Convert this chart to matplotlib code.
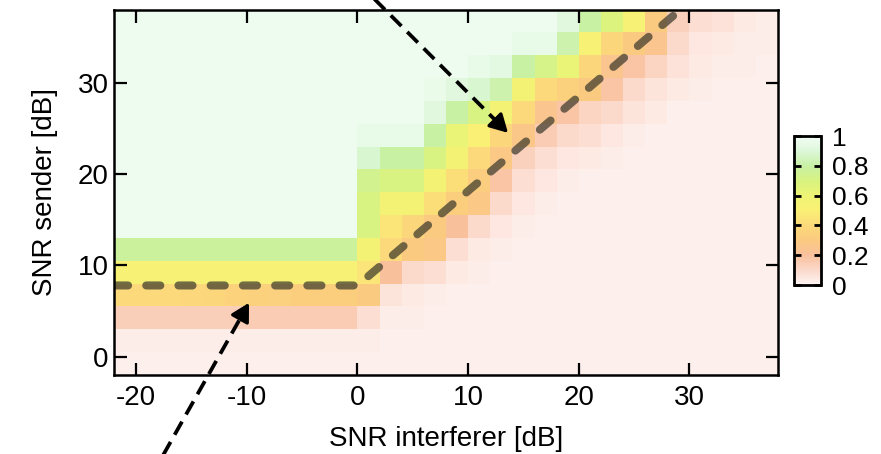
import matplotlib
matplotlib.use("Agg")
import matplotlib.pyplot as plt
from matplotlib.colors import LinearSegmentedColormap
import numpy as np

plt.rcParams["font.family"] = ["Liberation Sans", "DejaVu Sans"]
plt.rcParams["axes.unicode_minus"] = False

# cell edges of the success-rate grid
X_EDGES = [-22, -20, -18, -16, -14, -12, -10, -8, -6, -4, -2, 0, 2, 4, 6, 8, 10,
           12, 14, 16, 18, 20, 22, 24, 26, 28, 30, 32, 34, 36, 38]
Y_EDGES = [-2, 0.5, 3, 5.5, 8, 10.5, 13, 15.5, 18, 20.5, 23, 25.5, 28, 30.5,
           33, 35.5, 38]

# reception rate per cell, rows from low to high sender SNR,
# columns from -22 dB to 38 dB interferer SNR
RATE = [
    [.02, .02, .02, .02, .02, .02, .02, .02, .02, .02, .02,
     .02, .02, .02, .02, .02, .02, .02, .02, .02, .02, .02, .02, .02, .02, .02, .02, .02, .02, .02],
    [.03, .03, .03, .03, .03, .03, .03, .03, .03, .03, .03,
     .03, .02, .02, .02, .02, .02, .02, .02, .02, .02, .02, .02, .02, .02, .02, .02, .02, .02, .02],
    [.14, .14, .14, .14, .14, .14, .15, .15, .15, .15, .15,
     .08, .03, .03, .02, .02, .02, .02, .02, .02, .02, .02, .02, .02, .02, .02, .02, .02, .02, .02],
    [.40, .40, .40, .39, .38, .36, .35, .34, .33, .33, .33,
     .30, .06, .04, .03, .02, .02, .02, .02, .02, .02, .02, .02, .02, .02, .02, .02, .02, .02, .02],
    [.52, .52, .52, .52, .52, .52, .52, .52, .52, .52, .52,
     .45, .20, .10, .08, .04, .03, .02, .02, .02, .02, .02, .02, .02, .02, .02, .02, .02, .02, .02],
    [.78, .78, .78, .78, .78, .78, .78, .78, .78, .78, .78,
     .55, .40, .30, .28, .08, .04, .03, .02, .02, .02, .02, .02, .02, .02, .02, .02, .02, .02, .02],
    [.98, .98, .98, .98, .98, .98, .98, .98, .98, .98, .98,
     .70, .45, .38, .30, .20, .10, .05, .03, .02, .02, .02, .02, .02, .02, .02, .02, .02, .02, .02],
    [.98, .98, .98, .98, .98, .98, .98, .98, .98, .98, .98,
     .70, .55, .55, .42, .33, .28, .10, .05, .03, .02, .02, .02, .02, .02, .02, .02, .02, .02, .02],
    [.98, .98, .98, .98, .98, .98, .98, .98, .98, .98, .98,
     .74, .70, .70, .55, .42, .32, .18, .08, .05, .03, .02, .02, .02, .02, .02, .02, .02, .02, .02],
    [.98, .98, .98, .98, .98, .98, .98, .98, .98, .98, .98,
     .88, .80, .80, .70, .55, .40, .28, .13, .08, .05, .04, .03, .02, .02, .02, .02, .02, .02, .02],
    [.98, .98, .98, .98, .98, .98, .98, .98, .98, .98, .98,
     .95, .95, .95, .80, .62, .50, .38, .27, .15, .10, .08, .05, .03, .02, .02, .02, .02, .02, .02],
    [.98, .98, .98, .98, .98, .98, .98, .98, .98, .98, .98,
     .98, .98, .98, .92, .80, .70, .55, .40, .25, .18, .12, .10, .06, .04, .02, .02, .02, .02, .02],
    [.98, .98, .98, .98, .98, .98, .98, .98, .98, .98, .98,
     .98, .98, .98, .96, .92, .88, .82, .55, .40, .35, .30, .18, .10, .06, .04, .03, .02, .02, .02],
    [.98, .98, .98, .98, .98, .98, .98, .98, .98, .98, .98,
     .98, .98, .98, .98, .98, .95, .93, .80, .72, .62, .38, .25, .18, .12, .07, .04, .03, .03, .02],
    [.98, .98, .98, .98, .98, .98, .98, .98, .98, .98, .98,
     .98, .98, .98, .98, .98, .98, .98, .95, .95, .82, .52, .38, .30, .25, .10, .05, .04, .03, .03],
    [.98, .98, .98, .98, .98, .98, .98, .98, .98, .98, .98,
     .98, .98, .98, .98, .98, .98, .98, .98, .98, .92, .80, .68, .52, .30, .13, .08, .07, .04, .03],
]

# capture threshold: flat below 0 dB interferer, then rising with it
BOUNDARY_X = [-22, 0, 29]
BOUNDARY_Y = [7.8, 7.8, 37.8]

# annotation arrows (tail, tip) in data units
ARROW_TOP = ((0.75, 40.1), (13.6, 24.5))
ARROW_BOTTOM = ((-17.9, -11.5), (-9.8, 5.9))

X_TICKS = [-20, -10, 0, 10, 20, 30]
Y_TICKS = [0, 10, 20, 30]
CBAR_TICKS = [0, 0.2, 0.4, 0.6, 0.8, 1]
CBAR_LABELS = ["0", "0.2", "0.4", "0.6", "0.8", "1"]

cmap = LinearSegmentedColormap.from_list("rate", [
    (0.0, "#fef5f3"), (0.1, "#fbd8ca"), (0.2, "#f9c09c"), (0.3, "#fbca80"),
    (0.4, "#fcd97a"), (0.5, "#faf076"), (0.6, "#eef474"), (0.7, "#d8f380"),
    (0.8, "#c8f1a4"), (0.9, "#dcf7d8"), (1.0, "#f3fdf6"),
])

fig = plt.figure(figsize=(8.81, 4.54), dpi=100)
ax = fig.add_axes([0.1294, 0.174, 0.7537, 0.805])

mesh = ax.pcolormesh(X_EDGES, Y_EDGES, np.array(RATE), cmap=cmap,
                     vmin=0, vmax=1, shading="flat")

ax.plot(BOUNDARY_X, BOUNDARY_Y, color="#3d3a2c", alpha=0.72, lw=5.8,
        dashes=(1.75, 2.25), dash_capstyle="round", solid_capstyle="round")


def dashed_arrow(tail, tip):
    (x0, y0), (x1, y1) = tail, tip
    # shaft stops a little short, head is drawn solid on top
    xs, ys = x0 + 0.94 * (x1 - x0), y0 + 0.94 * (y1 - y0)
    ax.plot([x0, xs], [y0, ys], color="black", lw=2.7,
            dashes=(4.0, 2.2), clip_on=False)
    ax.annotate("", xy=tip, xytext=(xs, ys), annotation_clip=False,
                arrowprops=dict(arrowstyle="-|>,head_length=0.9,head_width=0.5",
                                color="black", lw=2.4, shrinkA=0, shrinkB=0,
                                mutation_scale=12))


dashed_arrow(*ARROW_TOP)
dashed_arrow(*ARROW_BOTTOM)

ax.set_xlim(-22, 38)
ax.set_ylim(-2, 38)
ax.set_xticks(X_TICKS)
ax.set_yticks(Y_TICKS)
ax.tick_params(direction="in", length=9, width=1.6, top=True, right=True,
               labelsize=20)
ax.tick_params(axis="x", pad=7)
ax.tick_params(axis="y", pad=4)
for s in ax.spines.values():
    s.set_linewidth(1.8)
ax.set_xlabel("SNR interferer [dB]", fontsize=20, labelpad=11)
ax.set_ylabel("SNR sender [dB]", fontsize=20, labelpad=14)

cax = fig.add_axes([0.9009, 0.3722, 0.0306, 0.328])
cb = fig.colorbar(mesh, cax=cax, ticks=CBAR_TICKS)
cb.ax.set_yticklabels(CBAR_LABELS)
cb.outline.set_linewidth(2)
cax.tick_params(direction="in", length=5, width=2, left=True, right=True,
                labelleft=False, labelright=True, labelsize=19, pad=8)

fig.savefig("out.png", dpi=100)
